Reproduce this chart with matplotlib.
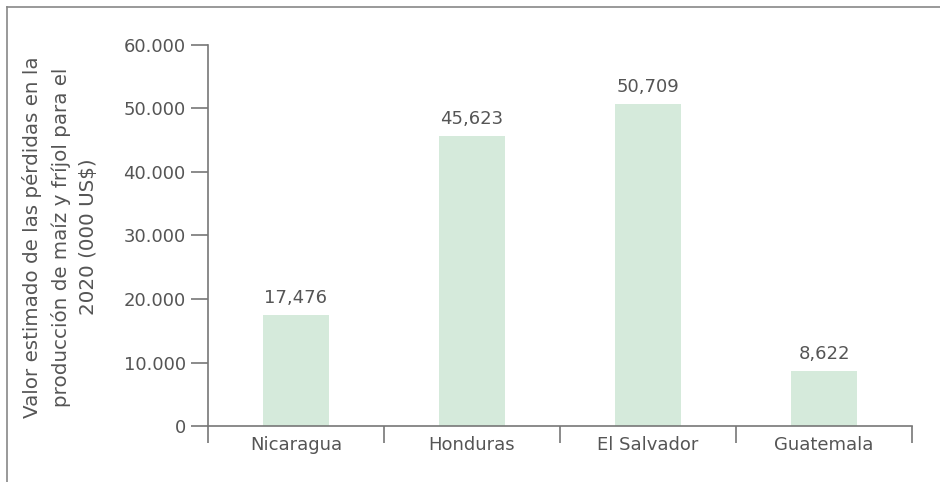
import matplotlib
matplotlib.use("Agg")
import matplotlib.pyplot as plt
from matplotlib.lines import Line2D

categories = ["Nicaragua", "Honduras", "El Salvador", "Guatemala"]
values = [17476, 45623, 50709, 8622]
value_labels = ["17,476", "45,623", "50,709", "8,622"]
yticks = [0, 10000, 20000, 30000, 40000, 50000, 60000]
ytick_labels = ["0", "10.000", "20.000", "30.000", "40.000", "50.000", "60.000"]
ylabel = "Valor estimado de las pérdidas en la\nproducción de maíz y fríjol para el\n2020 (000 US$)"

W, H = 940, 482
fig = plt.figure(figsize=(W / 100, H / 100), dpi=100)
ax = fig.add_axes([208 / W, 1 - 426 / H, (912 - 208) / W, (426 - 45) / H])

text_color = "#555555"
spine_color = "#777777"
bar_color = "#d5eadb"

x = list(range(len(categories)))
ax.bar(x, values, width=0.38, color=bar_color)
for xi, v, lab in zip(x, values, value_labels):
    ax.annotate(lab, (xi, v), xytext=(0, 6), textcoords="offset points",
                ha="center", va="bottom", fontsize=13, color=text_color)

ax.set_xlim(-0.5, len(categories) - 0.5)
ax.set_ylim(0, 60000)
ax.set_yticks(yticks)
ax.set_yticklabels(ytick_labels)
ax.set_xticks([i - 0.5 for i in range(len(categories) + 1)])
ax.set_xticklabels([])
ax.set_xticks(x, minor=True)
ax.set_xticklabels(categories, minor=True)
ax.tick_params(axis="x", which="major", length=12, width=1.2, color=spine_color)
ax.tick_params(axis="x", which="minor", length=0, pad=7, labelsize=13, labelcolor=text_color)
ax.tick_params(axis="y", length=12, width=1.2, color=spine_color, labelsize=13,
               labelcolor=text_color, pad=4)
for s in ["top", "right"]:
    ax.spines[s].set_visible(False)
for s in ["left", "bottom"]:
    ax.spines[s].set_color(spine_color)
    ax.spines[s].set_linewidth(1.2)

fig.text(60 / W, 1 - 237 / H, ylabel, rotation=90, ha="center", va="center",
         fontsize=14.3, color=text_color, multialignment="center", linespacing=1.55)

border = "#888888"
fig.add_artist(Line2D([7 / W, 1], [1 - 7 / H, 1 - 7 / H], color=border, lw=1.2,
                      transform=fig.transFigure))
fig.add_artist(Line2D([7 / W, 7 / W], [0, 1 - 7 / H], color=border, lw=1.2,
                      transform=fig.transFigure))

fig.savefig("out.png", dpi=100)
